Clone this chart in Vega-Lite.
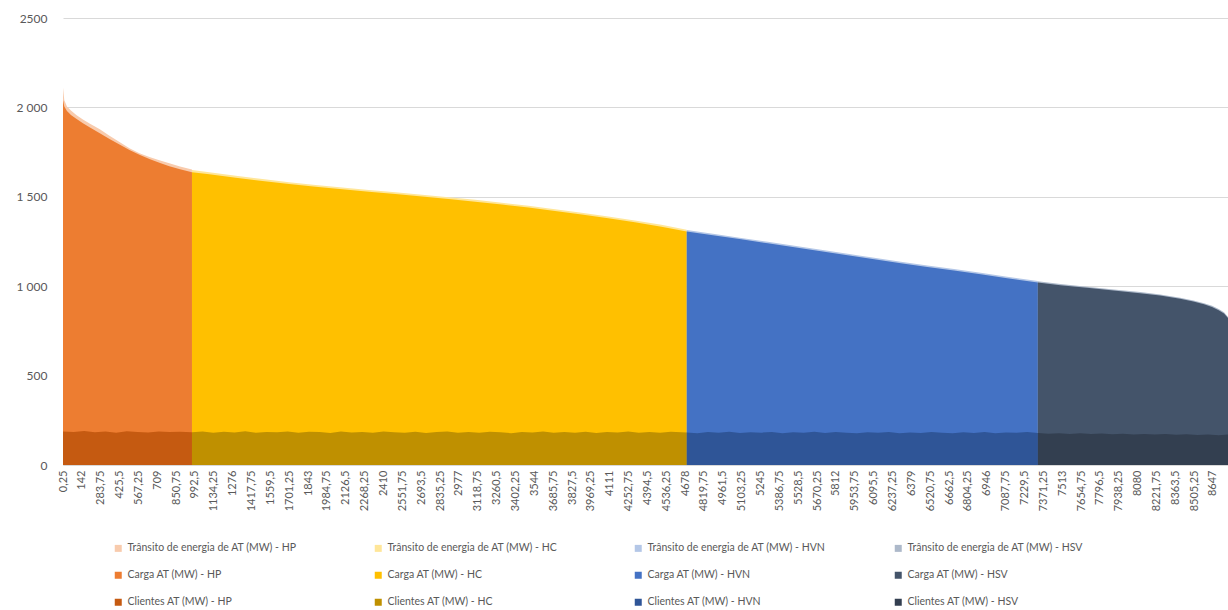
{
  "$schema": "https://vega.github.io/schema/vega-lite/v6.json",
  "autosize": {"type": "none"},
  "width": 1165,
  "height": 447,
  "padding": {"left": 63, "top": 18, "right": 0, "bottom": 145},
  "background": "white",
  "config": {
    "view": {"stroke": null},
    "font": "Lato",
    "axis": {"labelFont": "Lato", "labelColor": "#595959", "titleColor": "#595959"},
    "legend": {"labelFont": "Lato", "labelColor": "#595959"}
  },
  "datasets": {
    "transito": [
      {"h": 0.25, "s": "T-HP", "v": 2110}, {"h": 10, "s": "T-HP", "v": 2040}, {"h": 30, "s": "T-HP", "v": 2005}, {"h": 60, "s": "T-HP", "v": 1982}, {"h": 100, "s": "T-HP", "v": 1958}, {"h": 150, "s": "T-HP", "v": 1932}, {"h": 200, "s": "T-HP", "v": 1910}, {"h": 277, "s": "T-HP", "v": 1878}, {"h": 350, "s": "T-HP", "v": 1842}, {"h": 425, "s": "T-HP", "v": 1806}, {"h": 500, "s": "T-HP", "v": 1772}, {"h": 575, "s": "T-HP", "v": 1744}, {"h": 650, "s": "T-HP", "v": 1722}, {"h": 725, "s": "T-HP", "v": 1705}, {"h": 800, "s": "T-HP", "v": 1688}, {"h": 880, "s": "T-HP", "v": 1670}, {"h": 970, "s": "T-HP", "v": 1652},
      {"h": 970, "s": "T-HC", "v": 1650}, {"h": 1100, "s": "T-HC", "v": 1637}, {"h": 1300, "s": "T-HC", "v": 1618}, {"h": 1500, "s": "T-HC", "v": 1599}, {"h": 1700, "s": "T-HC", "v": 1582}, {"h": 1900, "s": "T-HC", "v": 1566}, {"h": 2100, "s": "T-HC", "v": 1552}, {"h": 2300, "s": "T-HC", "v": 1538}, {"h": 2500, "s": "T-HC", "v": 1525}, {"h": 2700, "s": "T-HC", "v": 1512}, {"h": 2900, "s": "T-HC", "v": 1498}, {"h": 3100, "s": "T-HC", "v": 1483}, {"h": 3300, "s": "T-HC", "v": 1467}, {"h": 3500, "s": "T-HC", "v": 1450}, {"h": 3700, "s": "T-HC", "v": 1431}, {"h": 3900, "s": "T-HC", "v": 1411}, {"h": 4100, "s": "T-HC", "v": 1390}, {"h": 4300, "s": "T-HC", "v": 1368}, {"h": 4500, "s": "T-HC", "v": 1343}, {"h": 4690, "s": "T-HC", "v": 1316},
      {"h": 4690, "s": "T-HVN", "v": 1314}, {"h": 4900, "s": "T-HVN", "v": 1292}, {"h": 5100, "s": "T-HVN", "v": 1270}, {"h": 5300, "s": "T-HVN", "v": 1248}, {"h": 5500, "s": "T-HVN", "v": 1226}, {"h": 5700, "s": "T-HVN", "v": 1204}, {"h": 5900, "s": "T-HVN", "v": 1181}, {"h": 6100, "s": "T-HVN", "v": 1159}, {"h": 6300, "s": "T-HVN", "v": 1137}, {"h": 6500, "s": "T-HVN", "v": 1116}, {"h": 6700, "s": "T-HVN", "v": 1096}, {"h": 6900, "s": "T-HVN", "v": 1075}, {"h": 7100, "s": "T-HVN", "v": 1053}, {"h": 7330, "s": "T-HVN", "v": 1029},
      {"h": 7330, "s": "T-HSV", "v": 1027}, {"h": 7500, "s": "T-HSV", "v": 1012}, {"h": 7700, "s": "T-HSV", "v": 997}, {"h": 7900, "s": "T-HSV", "v": 982}, {"h": 8100, "s": "T-HSV", "v": 967}, {"h": 8250, "s": "T-HSV", "v": 954}, {"h": 8400, "s": "T-HSV", "v": 936}, {"h": 8500, "s": "T-HSV", "v": 920}, {"h": 8580, "s": "T-HSV", "v": 905}, {"h": 8640, "s": "T-HSV", "v": 890}, {"h": 8690, "s": "T-HSV", "v": 872}, {"h": 8730, "s": "T-HSV", "v": 854}, {"h": 8760, "s": "T-HSV", "v": 828}
    ],
    "carga": [
      {"h": 0.25, "s": "C-HP", "v": 2040}, {"h": 10, "s": "C-HP", "v": 2005}, {"h": 30, "s": "C-HP", "v": 1980}, {"h": 60, "s": "C-HP", "v": 1958}, {"h": 100, "s": "C-HP", "v": 1936}, {"h": 150, "s": "C-HP", "v": 1912}, {"h": 200, "s": "C-HP", "v": 1889}, {"h": 277, "s": "C-HP", "v": 1856}, {"h": 350, "s": "C-HP", "v": 1823}, {"h": 425, "s": "C-HP", "v": 1792}, {"h": 500, "s": "C-HP", "v": 1762}, {"h": 575, "s": "C-HP", "v": 1735}, {"h": 650, "s": "C-HP", "v": 1711}, {"h": 725, "s": "C-HP", "v": 1690}, {"h": 800, "s": "C-HP", "v": 1671}, {"h": 880, "s": "C-HP", "v": 1654}, {"h": 970, "s": "C-HP", "v": 1638},
      {"h": 970, "s": "C-HC", "v": 1638}, {"h": 1100, "s": "C-HC", "v": 1626}, {"h": 1300, "s": "C-HC", "v": 1607}, {"h": 1500, "s": "C-HC", "v": 1588}, {"h": 1700, "s": "C-HC", "v": 1571}, {"h": 1900, "s": "C-HC", "v": 1556}, {"h": 2100, "s": "C-HC", "v": 1542}, {"h": 2300, "s": "C-HC", "v": 1528}, {"h": 2500, "s": "C-HC", "v": 1515}, {"h": 2700, "s": "C-HC", "v": 1502}, {"h": 2900, "s": "C-HC", "v": 1488}, {"h": 3100, "s": "C-HC", "v": 1473}, {"h": 3300, "s": "C-HC", "v": 1457}, {"h": 3500, "s": "C-HC", "v": 1440}, {"h": 3700, "s": "C-HC", "v": 1421}, {"h": 3900, "s": "C-HC", "v": 1401}, {"h": 4100, "s": "C-HC", "v": 1380}, {"h": 4300, "s": "C-HC", "v": 1358}, {"h": 4500, "s": "C-HC", "v": 1333}, {"h": 4690, "s": "C-HC", "v": 1306},
      {"h": 4690, "s": "C-HVN", "v": 1306}, {"h": 4900, "s": "C-HVN", "v": 1284}, {"h": 5100, "s": "C-HVN", "v": 1262}, {"h": 5300, "s": "C-HVN", "v": 1240}, {"h": 5500, "s": "C-HVN", "v": 1218}, {"h": 5700, "s": "C-HVN", "v": 1196}, {"h": 5900, "s": "C-HVN", "v": 1173}, {"h": 6100, "s": "C-HVN", "v": 1151}, {"h": 6300, "s": "C-HVN", "v": 1129}, {"h": 6500, "s": "C-HVN", "v": 1108}, {"h": 6700, "s": "C-HVN", "v": 1088}, {"h": 6900, "s": "C-HVN", "v": 1067}, {"h": 7100, "s": "C-HVN", "v": 1045}, {"h": 7330, "s": "C-HVN", "v": 1021},
      {"h": 7330, "s": "C-HSV", "v": 1021}, {"h": 7500, "s": "C-HSV", "v": 1006}, {"h": 7700, "s": "C-HSV", "v": 991}, {"h": 7900, "s": "C-HSV", "v": 976}, {"h": 8100, "s": "C-HSV", "v": 961}, {"h": 8250, "s": "C-HSV", "v": 948}, {"h": 8400, "s": "C-HSV", "v": 930}, {"h": 8500, "s": "C-HSV", "v": 914}, {"h": 8580, "s": "C-HSV", "v": 899}, {"h": 8640, "s": "C-HSV", "v": 884}, {"h": 8690, "s": "C-HSV", "v": 866}, {"h": 8730, "s": "C-HSV", "v": 848}, {"h": 8760, "s": "C-HSV", "v": 822}
    ],
    "clientes": [
      {"h": 0.25, "s": "K-HP", "v": 188}, {"h": 80, "s": "K-HP", "v": 184}, {"h": 160, "s": "K-HP", "v": 190}, {"h": 240, "s": "K-HP", "v": 183}, {"h": 320, "s": "K-HP", "v": 187}, {"h": 400, "s": "K-HP", "v": 181}, {"h": 480, "s": "K-HP", "v": 189}, {"h": 560, "s": "K-HP", "v": 185}, {"h": 640, "s": "K-HP", "v": 182}, {"h": 720, "s": "K-HP", "v": 188}, {"h": 800, "s": "K-HP", "v": 184}, {"h": 880, "s": "K-HP", "v": 186}, {"h": 970, "s": "K-HP", "v": 183},
      {"h": 970, "s": "K-HC", "v": 183}, {"h": 1050, "s": "K-HC", "v": 187}, {"h": 1130, "s": "K-HC", "v": 180}, {"h": 1210, "s": "K-HC", "v": 186}, {"h": 1290, "s": "K-HC", "v": 182}, {"h": 1370, "s": "K-HC", "v": 189}, {"h": 1450, "s": "K-HC", "v": 181}, {"h": 1530, "s": "K-HC", "v": 185}, {"h": 1610, "s": "K-HC", "v": 183}, {"h": 1690, "s": "K-HC", "v": 188}, {"h": 1770, "s": "K-HC", "v": 180}, {"h": 1850, "s": "K-HC", "v": 186}, {"h": 1930, "s": "K-HC", "v": 184}, {"h": 2010, "s": "K-HC", "v": 179}, {"h": 2090, "s": "K-HC", "v": 187}, {"h": 2170, "s": "K-HC", "v": 182}, {"h": 2250, "s": "K-HC", "v": 185}, {"h": 2330, "s": "K-HC", "v": 180}, {"h": 2410, "s": "K-HC", "v": 188}, {"h": 2490, "s": "K-HC", "v": 183}, {"h": 2570, "s": "K-HC", "v": 181}, {"h": 2650, "s": "K-HC", "v": 186}, {"h": 2730, "s": "K-HC", "v": 179}, {"h": 2810, "s": "K-HC", "v": 184}, {"h": 2890, "s": "K-HC", "v": 187}, {"h": 2970, "s": "K-HC", "v": 181}, {"h": 3050, "s": "K-HC", "v": 185}, {"h": 3130, "s": "K-HC", "v": 180}, {"h": 3210, "s": "K-HC", "v": 186}, {"h": 3290, "s": "K-HC", "v": 183}, {"h": 3370, "s": "K-HC", "v": 178}, {"h": 3450, "s": "K-HC", "v": 185}, {"h": 3530, "s": "K-HC", "v": 182}, {"h": 3610, "s": "K-HC", "v": 187}, {"h": 3690, "s": "K-HC", "v": 180}, {"h": 3770, "s": "K-HC", "v": 184}, {"h": 3850, "s": "K-HC", "v": 181}, {"h": 3930, "s": "K-HC", "v": 186}, {"h": 4010, "s": "K-HC", "v": 179}, {"h": 4090, "s": "K-HC", "v": 184}, {"h": 4170, "s": "K-HC", "v": 182}, {"h": 4250, "s": "K-HC", "v": 187}, {"h": 4330, "s": "K-HC", "v": 180}, {"h": 4410, "s": "K-HC", "v": 185}, {"h": 4490, "s": "K-HC", "v": 181}, {"h": 4570, "s": "K-HC", "v": 186}, {"h": 4690, "s": "K-HC", "v": 182},
      {"h": 4690, "s": "K-HVN", "v": 182}, {"h": 4770, "s": "K-HVN", "v": 178}, {"h": 4850, "s": "K-HVN", "v": 184}, {"h": 4930, "s": "K-HVN", "v": 180}, {"h": 5010, "s": "K-HVN", "v": 186}, {"h": 5090, "s": "K-HVN", "v": 179}, {"h": 5170, "s": "K-HVN", "v": 183}, {"h": 5250, "s": "K-HVN", "v": 181}, {"h": 5330, "s": "K-HVN", "v": 185}, {"h": 5410, "s": "K-HVN", "v": 178}, {"h": 5490, "s": "K-HVN", "v": 183}, {"h": 5570, "s": "K-HVN", "v": 180}, {"h": 5650, "s": "K-HVN", "v": 186}, {"h": 5730, "s": "K-HVN", "v": 179}, {"h": 5810, "s": "K-HVN", "v": 184}, {"h": 5890, "s": "K-HVN", "v": 181}, {"h": 5970, "s": "K-HVN", "v": 177}, {"h": 6050, "s": "K-HVN", "v": 183}, {"h": 6130, "s": "K-HVN", "v": 180}, {"h": 6210, "s": "K-HVN", "v": 185}, {"h": 6290, "s": "K-HVN", "v": 178}, {"h": 6370, "s": "K-HVN", "v": 182}, {"h": 6450, "s": "K-HVN", "v": 179}, {"h": 6530, "s": "K-HVN", "v": 184}, {"h": 6610, "s": "K-HVN", "v": 180}, {"h": 6690, "s": "K-HVN", "v": 177}, {"h": 6770, "s": "K-HVN", "v": 183}, {"h": 6850, "s": "K-HVN", "v": 179}, {"h": 6930, "s": "K-HVN", "v": 184}, {"h": 7010, "s": "K-HVN", "v": 178}, {"h": 7090, "s": "K-HVN", "v": 182}, {"h": 7170, "s": "K-HVN", "v": 180}, {"h": 7250, "s": "K-HVN", "v": 184}, {"h": 7330, "s": "K-HVN", "v": 179},
      {"h": 7330, "s": "K-HSV", "v": 179}, {"h": 7410, "s": "K-HSV", "v": 175}, {"h": 7490, "s": "K-HSV", "v": 178}, {"h": 7570, "s": "K-HSV", "v": 174}, {"h": 7650, "s": "K-HSV", "v": 177}, {"h": 7730, "s": "K-HSV", "v": 173}, {"h": 7810, "s": "K-HSV", "v": 176}, {"h": 7890, "s": "K-HSV", "v": 172}, {"h": 7970, "s": "K-HSV", "v": 175}, {"h": 8050, "s": "K-HSV", "v": 171}, {"h": 8130, "s": "K-HSV", "v": 174}, {"h": 8210, "s": "K-HSV", "v": 170}, {"h": 8290, "s": "K-HSV", "v": 173}, {"h": 8370, "s": "K-HSV", "v": 169}, {"h": 8450, "s": "K-HSV", "v": 172}, {"h": 8530, "s": "K-HSV", "v": 168}, {"h": 8610, "s": "K-HSV", "v": 171}, {"h": 8690, "s": "K-HSV", "v": 167}, {"h": 8760, "s": "K-HSV", "v": 170}
    ]
  },
  "encoding": {
    "x": {
      "field": "h", "type": "quantitative",
      "scale": {"domain": [0.25, 8760], "nice": false, "zero": false},
      "axis": {
        "title": null, "grid": false, "ticks": false, "domainColor": "#D9D9D9",
        "labelAngle": -90, "labelFontSize": 11, "labelPadding": 5, "labelOverlap": false, "labelFlush": false,
        "values": [0.25, 142, 283.75, 425.5, 567.25, 709, 850.75, 992.5, 1134.25, 1276, 1417.75, 1559.5, 1701.25, 1843, 1984.75, 2126.5, 2268.25, 2410, 2551.75, 2693.5, 2835.25, 2977, 3118.75, 3260.5, 3402.25, 3544, 3685.75, 3827.5, 3969.25, 4111, 4252.75, 4394.5, 4536.25, 4678, 4819.75, 4961.5, 5103.25, 5245, 5386.75, 5528.5, 5670.25, 5812, 5953.75, 6095.5, 6237.25, 6379, 6520.75, 6662.5, 6804.25, 6946, 7087.75, 7229.5, 7371.25, 7513, 7654.75, 7796.5, 7938.25, 8080, 8221.75, 8363.5, 8505.25, 8647],
        "labelExpr": "replace(format(datum.value, '.2~f'), '.', ',')"
      }
    },
    "y": {
      "field": "v", "type": "quantitative", "stack": null,
      "scale": {"domain": [0, 2500], "nice": false},
      "axis": {
        "title": null, "domain": false, "ticks": false, "gridColor": "#D9D9D9", "labelFontSize": 12, "labelPadding": 16,
        "values": [0, 500, 1000, 1500, 2000, 2500],
        "labelExpr": "datum.value == 2500 ? '2500' : replace(format(datum.value, ','), ',', ' ')"
      }
    },
    "color": {
      "field": "s", "type": "nominal",
      "scale": {
        "domain": ["T-HP", "T-HC", "T-HVN", "T-HSV", "C-HP", "C-HC", "C-HVN", "C-HSV", "K-HP", "K-HC", "K-HVN", "K-HSV"],
        "range": ["#F8CBAD", "#FFE699", "#B4C7E7", "#ADB9CA", "#ED7D31", "#FFC000", "#4472C4", "#44546A", "#C55A11", "#BF9000", "#2F5597", "#333F50"]
      },
      "legend": {
        "title": null, "orient": "none", "legendX": 50, "legendY": 525, "direction": "horizontal", "columns": 4,
        "symbolType": "square", "symbolSize": 49, "symbolStrokeWidth": 0, "labelFontSize": 10.5, "labelOffset": 4, "labelLimit": 400,
        "columnPadding": 67, "rowPadding": 16, "gridAlign": "all",
        "labelExpr": "replace(replace(replace(datum.label, 'T-', 'Trânsito de energia de AT (MW) - '), 'C-', 'Carga AT (MW) - '), 'K-', 'Clientes AT (MW) - ')"
      }
    }
  },
  "layer": [
    {"data": {"name": "transito"}, "mark": {"type": "area", "opacity": 1}},
    {"data": {"name": "carga"}, "mark": {"type": "area", "opacity": 1}},
    {"data": {"name": "clientes"}, "mark": {"type": "area", "opacity": 1}}
  ]
}
